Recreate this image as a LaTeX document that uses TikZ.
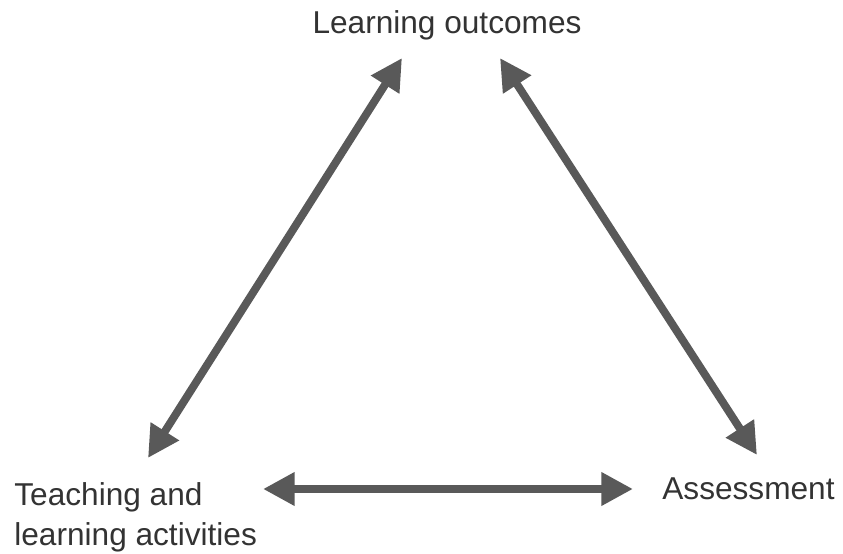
\documentclass[tikz,border=0pt]{standalone}
\usepackage{fontspec}
\setmainfont{Liberation Sans}
\usetikzlibrary{arrows.meta}

\definecolor{arrowgray}{HTML}{595959}
\definecolor{textgray}{HTML}{333333}

\begin{document}
\begin{tikzpicture}[x=0.02cm,y=-0.02cm,
	label node/.style = {inner sep=0pt, text=textgray, align=left,
		font=\fontsize{18}{22.7}\selectfont},
	link/.style = {draw=arrowgray, line width=4.5pt,
		{Triangle[length=18pt,width=18pt]}-{Triangle[length=18pt,width=18pt]}}]

	\useasboundingbox (0,0) rectangle (843,554);

	\node[label node, anchor=base] (lo) at (447,34) {Learning outcomes};
	\node[label node, anchor=base west] (tla) at (14,545) {Teaching and\\learning activities};
	\node[label node, anchor=base west] (as) at (662,500) {Assessment};

	% arrow ends
	\coordinate (lo l) at (402,58);
	\coordinate (lo r) at (500,58);
	\coordinate (tla t) at (148,458);
	\coordinate (tla r) at (263,489);
	\coordinate (as t) at (757,455);
	\coordinate (as l) at (633,489);

	\draw[link] (tla t) -- (lo l);
	\draw[link] (lo r) -- (as t);
	\draw[link] (tla r) -- (as l);

\end{tikzpicture}
\end{document}
